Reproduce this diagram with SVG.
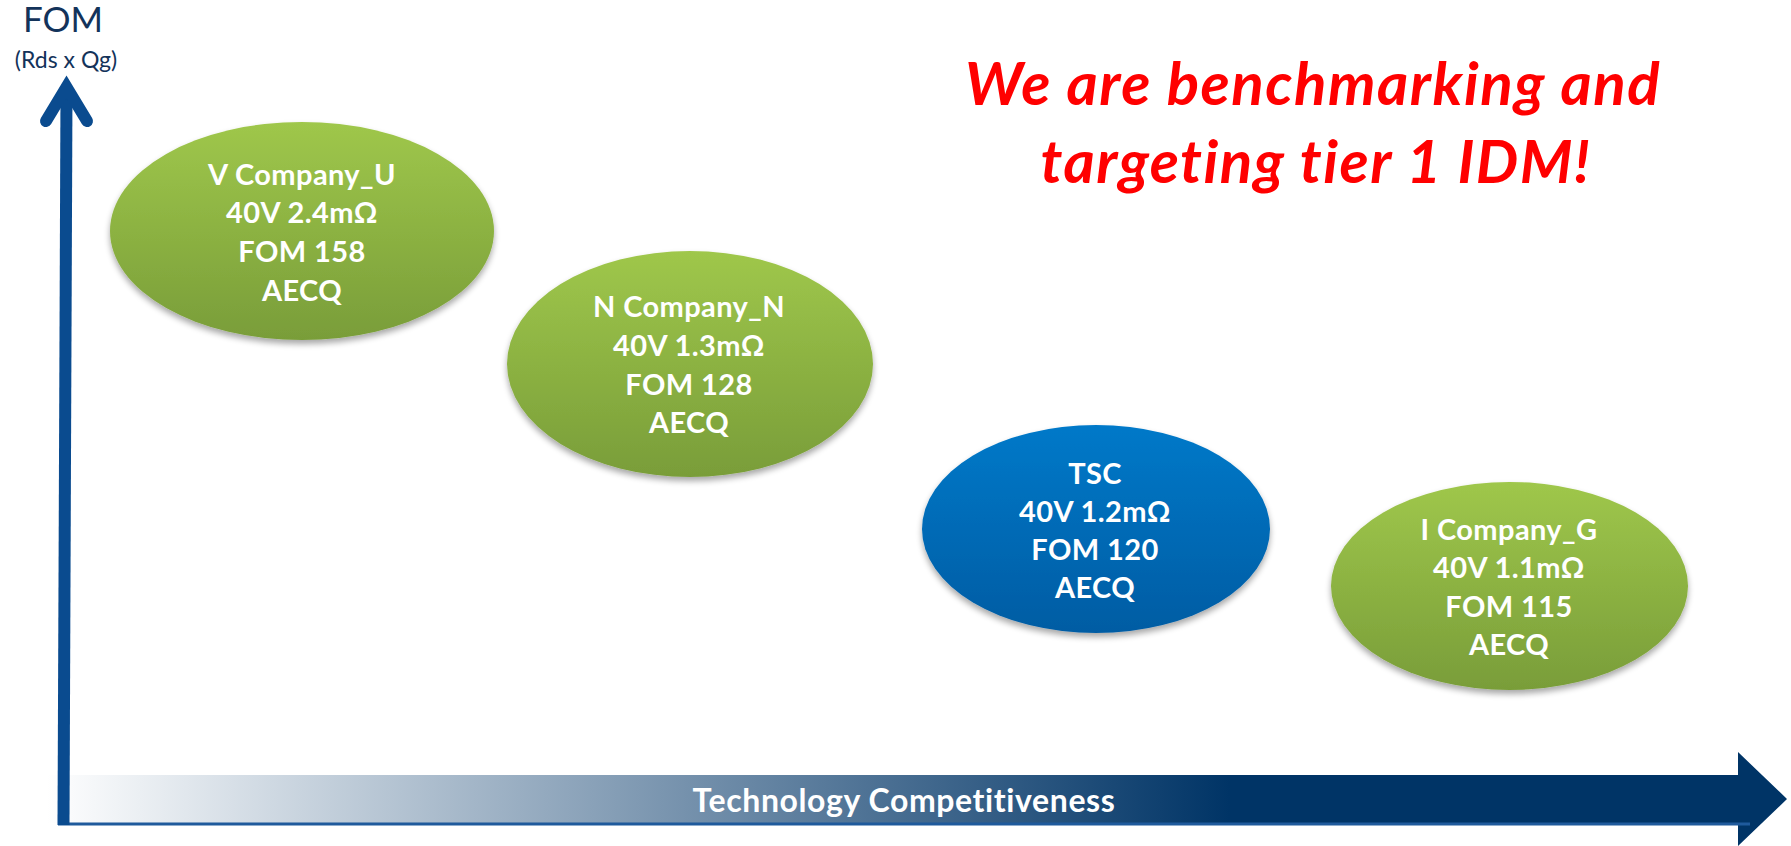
<svg xmlns="http://www.w3.org/2000/svg" width="1791" height="846" viewBox="0 0 1791 846">
  <style>
    .axis-title { font-family: Lato, "Open Sans", sans-serif; fill: #13335a; text-anchor: middle; }
    .node-text { font-family: Lato, "Open Sans", sans-serif; font-weight: 700; font-size: 29px; letter-spacing: 0.4px; fill: #ffffff; text-anchor: middle; }
    .slogan { font-family: Lato, "Open Sans", sans-serif; font-weight: 700; font-style: italic; font-size: 60px; letter-spacing: 1.5px; fill: #ff0000; text-anchor: middle; }
    .band-label { font-family: Lato, "Open Sans", sans-serif; font-weight: 700; font-size: 32px; letter-spacing: 0.6px; fill: #ffffff; text-anchor: middle; }
  </style>
  <defs>
    <linearGradient id="greenFill" x1="0" y1="0" x2="0" y2="1">
      <stop offset="0" stop-color="#9fc74b"/>
      <stop offset="1" stop-color="#799d39"/>
    </linearGradient>
    <linearGradient id="blueFill" x1="0" y1="0" x2="0" y2="1">
      <stop offset="0" stop-color="#0679c9"/>
      <stop offset="1" stop-color="#005ca3"/>
    </linearGradient>
    <linearGradient id="bandFill" gradientUnits="userSpaceOnUse" x1="47" y1="0" x2="1230" y2="0">
      <stop offset="0" stop-color="#ffffff"/>
      <stop offset="1" stop-color="#003466"/>
    </linearGradient>
    <filter id="softShadow" x="-10%" y="-10%" width="120%" height="130%">
      <feGaussianBlur in="SourceAlpha" stdDeviation="3"/>
      <feOffset dy="4" result="blur"/>
      <feComponentTransfer><feFuncA type="linear" slope="0.35"/></feComponentTransfer>
      <feMerge><feMergeNode/><feMergeNode in="SourceGraphic"/></feMerge>
    </filter>
  </defs>

  <!-- horizontal axis: gradient block arrow -->
  <g id="x-axis">
    <path d="M47,775 H1738 V752 L1787,799 L1738,846 V823 H47 Z" fill="url(#bandFill)"/>
    <line x1="58" y1="824" x2="1750" y2="824" stroke="#1f5a9c" stroke-width="3"/>
    <text class="band-label" x="904" y="812">Technology Competitiveness</text>
  </g>

  <!-- vertical axis -->
  <g id="y-axis" fill="none" stroke="#0a4b8f" stroke-width="12">
    <line x1="63.5" y1="825" x2="66.5" y2="90"/>
    <path d="M46,121 L66.5,87 L87,121" stroke-linecap="round" stroke-linejoin="miter"/>
  </g>
  <g id="y-axis-title">
    <text class="axis-title" x="63" y="32" font-size="35">FOM</text>
    <text class="axis-title" x="66" y="68" font-size="23">(Rds x Qg)</text>
  </g>

  <!-- slogan -->
  <g id="slogan">
    <text class="slogan" x="1313" y="105">We are benchmarking and</text>
    <text class="slogan" x="1316" y="183">targeting tier 1 IDM!</text>
  </g>

  <!-- device nodes -->
  <g id="node-v-company">
    <ellipse cx="302" cy="231" rx="192" ry="109" fill="url(#greenFill)" filter="url(#softShadow)"/>
    <text class="node-text" x="302" y="185">V Company_U</text>
    <text class="node-text" x="302" y="223">40V 2.4mΩ</text>
    <text class="node-text" x="302" y="262">FOM 158</text>
    <text class="node-text" x="302" y="301">AECQ</text>
  </g>
  <g id="node-n-company">
    <ellipse cx="690" cy="364" rx="183" ry="113" fill="url(#greenFill)" filter="url(#softShadow)"/>
    <text class="node-text" x="689" y="317">N Company_N</text>
    <text class="node-text" x="689" y="356">40V 1.3mΩ</text>
    <text class="node-text" x="689" y="395">FOM 128</text>
    <text class="node-text" x="689" y="433">AECQ</text>
  </g>
  <g id="node-tsc">
    <ellipse cx="1096" cy="529" rx="174" ry="104" fill="url(#blueFill)" filter="url(#softShadow)"/>
    <text class="node-text" x="1095" y="484">TSC</text>
    <text class="node-text" x="1095" y="522">40V 1.2mΩ</text>
    <text class="node-text" x="1095" y="560">FOM 120</text>
    <text class="node-text" x="1095" y="598">AECQ</text>
  </g>
  <g id="node-i-company">
    <ellipse cx="1509.5" cy="586" rx="178.5" ry="104" fill="url(#greenFill)" filter="url(#softShadow)"/>
    <text class="node-text" x="1509" y="540">I Company_G</text>
    <text class="node-text" x="1509" y="578">40V 1.1mΩ</text>
    <text class="node-text" x="1509" y="617">FOM 115</text>
    <text class="node-text" x="1509" y="655">AECQ</text>
  </g>
</svg>
